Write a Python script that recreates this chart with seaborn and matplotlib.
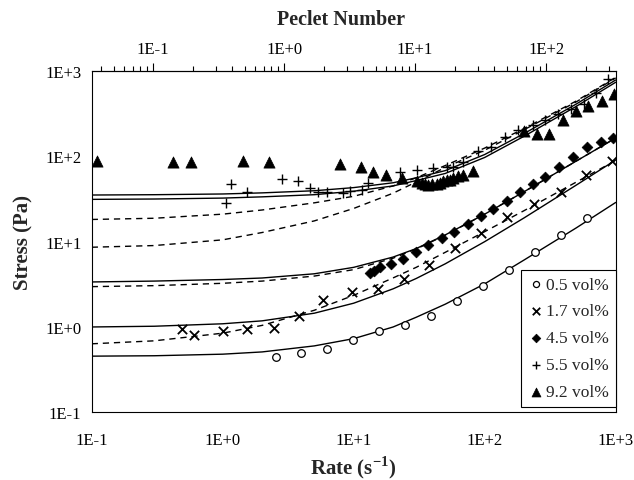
import numpy as np
import matplotlib
matplotlib.use("Agg")
import matplotlib.pyplot as plt
import seaborn as sns
from matplotlib.ticker import FixedLocator, FuncFormatter, NullFormatter, LogLocator

# ---------------- data ----------------
# measured points
rate_05 = [2.54, 3.93, 6.27, 9.8, 15.7, 24.7, 38.7, 61.8, 97.5, 153, 244, 384, 605]
stress_05 = [0.45, 0.49, 0.557, 0.71, 0.90, 1.05, 1.36, 2.02, 3.03, 4.66, 7.48, 12.1, 19.0]

rate_17 = [0.486, 0.607, 1.01, 1.52, 2.47, 3.82, 5.85, 9.7, 15.3, 24, 37.8, 59.3, 93.5,
           149, 237, 379, 594, 933]
stress_17 = [0.955, 0.805, 0.904, 0.946, 0.962, 1.33, 2.08, 2.6, 2.77, 3.62, 5.32, 8.33, 12.7,
             19.5, 27.4, 38.1, 59.7, 87.5]

rate_45 = [13.3, 14.3, 15.9, 19.2, 23.7, 29.8, 37.2, 47, 58.6, 74, 93.5, 116, 147, 185, 234,
           290, 367, 474, 601, 769, 959]
stress_45 = [4.34, 4.54, 4.98, 5.42, 6.25, 7.6, 9.1, 10.9, 13.0, 16.3, 20, 24.4, 29.9, 38.1, 47.7,
             58, 74.6, 98, 127, 149, 164]

rate_55 = [1.06, 1.15, 1.53, 2.83, 3.78, 4.64, 5.3, 6.2, 8.3, 9.3, 11.5, 12.9, 22.5, 30.3, 40.5,
           51.3, 57.5, 68.7, 89.3, 111, 142, 180, 234, 290, 363, 457, 571, 708, 869]
stress_55 = [28.6, 47.8, 38.1, 54.6, 51, 42.6, 38.3, 38.3, 37.4, 39, 40.8, 48.9, 65.6, 68.8, 73,
             75, 74.6, 85.3, 114.5, 128, 170, 203, 233, 268, 313, 363, 409, 545, 813]

rate_92 = [0.11, 0.42, 0.573, 1.42, 2.26, 7.9, 11.3, 14.1, 17.5, 23.2,
           30.3, 33, 35, 37.1, 39.4, 43, 45.6, 48.4, 51.3, 54.3, 57.5, 62.9, 68.7, 80.9,
           200, 249, 311, 394, 496, 618, 781, 975]
stress_92 = [87, 86, 86, 87, 85, 82, 75, 64.9, 59.8, 55.8,
             50.9, 48.7, 47.8, 46.6, 47.3, 47.8, 48.7, 50.9, 52.2, 53.4, 55.8, 58.2, 61, 66.7,
             196, 184, 184, 268, 344, 393, 450, 535]

# model curves
curve_rate = [0.1, 0.3, 1, 2, 5, 10, 20, 30, 50, 100, 200, 500, 1000]
solid_05 = [0.455, 0.46, 0.48, 0.51, 0.60, 0.73, 1.0, 1.3, 1.85, 3.2, 6.1, 14.5, 28.8]
solid_17 = [1.0, 1.02, 1.09, 1.18, 1.45, 1.9, 2.8, 3.7, 5.5, 10, 19, 46, 90.6]
dash_17 = [0.635, 0.688, 0.846, 1.044, 1.569, 2.35, 3.76, 5.0, 7.5, 13.1, 23.1, 49.9, 89.5]
solid_45 = [3.37, 3.45, 3.6, 3.75, 4.2, 5.0, 6.6, 8.3, 12, 21, 38.5, 88, 164]
dash_45 = [2.97, 3.05, 3.25, 3.45, 3.95, 4.7, 6.4, 8.2, 11.9, 21, 38.5, 88, 164]
dash_lo = [8.6, 9.0, 10.5, 12.8, 17.5, 24.5, 37, 50, 74, 118, 205, 435, 830]
dash_hi = [18.2, 18.8, 21, 23.5, 28.5, 34, 45, 56, 78, 125, 212, 445, 843]
solid_hi = [35.2, 35.5, 36.2, 37.3, 39.5, 43, 49, 56, 68, 105, 185, 410, 785]
solid_lo = [31.3, 31.6, 32.4, 33.5, 35.5, 39, 45, 52, 63, 97, 172, 385, 738]

pe_factor = 0.34  # Peclet number per unit rate (top axis)
major_ticks = [0.1, 1, 10, 100, 1000]
top_ticks = [0.1, 1, 10, 100]

# ---------------- style ----------------
sns.set_theme(style="white")
plt.rcParams["font.family"] = ["Liberation Serif", "DejaVu Serif"]
plt.rcParams["mathtext.fontset"] = "custom"
plt.rcParams["mathtext.rm"] = "Liberation Serif"
plt.rcParams["mathtext.bf"] = "Liberation Serif:bold"
plt.rcParams["axes.edgecolor"] = "black"
plt.rcParams["axes.linewidth"] = 0.8

fig = plt.figure(figsize=(6.34, 4.81), dpi=100)
L, R, T, Bm = 91.7, 615.7, 72.0, 413.3
ax = fig.add_axes([L / 634, 1 - Bm / 481, (R - L) / 634, (Bm - T) / 481])
ax.set_xscale("log")
ax.set_yscale("log")
ax.set_xlim(0.1, 1000)
ax.set_ylim(0.1, 1000)

dash = (0, (4.5, 3.5))
line_kw = dict(color="black", lw=1.0, estimator=None, sort=False, legend=False, ax=ax)
for vals, ls in [(solid_05, "-"), (solid_17, "-"), (dash_17, dash), (solid_45, "-"),
                 (dash_45, dash), (dash_lo, dash), (dash_hi, dash), (solid_hi, "-"),
                 (solid_lo, "-")]:
    sns.lineplot(x=curve_rate, y=vals, linestyle=ls, **line_kw)

sns.scatterplot(x=rate_05, y=stress_05, ax=ax, marker="o", s=30, facecolor="white",
                edgecolor="black", linewidth=0.9, label="0.5 vol%", zorder=3)
sns.scatterplot(x=rate_17, y=stress_17, ax=ax, marker="x", s=45, color="black",
                linewidth=1.3, label="1.7 vol%", zorder=3)
sns.scatterplot(x=rate_45, y=stress_45, ax=ax, marker="D", s=30, color="black",
                edgecolor="black", linewidth=0.5, label="4.5 vol%", zorder=3)
sns.scatterplot(x=rate_55, y=stress_55, ax=ax, marker="+", s=55, color="black",
                linewidth=1.0, label="5.5 vol%", zorder=3)
sns.scatterplot(x=rate_92, y=stress_92, ax=ax, marker="^", s=65, color="black",
                edgecolor="black", linewidth=0.5, label="9.2 vol%", zorder=3)

fmt = FuncFormatter(lambda v, p: f"1E{int(round(np.log10(v))):+d}")
for axis in (ax.xaxis, ax.yaxis):
    axis.set_major_locator(FixedLocator(major_ticks))
    axis.set_minor_locator(LogLocator(base=10, subs=np.arange(2, 10)))
    axis.set_major_formatter(fmt)
    axis.set_minor_formatter(NullFormatter())

ax.tick_params(which="both", direction="out", color="black", width=0.8,
               top=False, right=False, labelsize=12, labelcolor="black")
ax.tick_params(which="major", length=6)
ax.tick_params(which="minor", length=3.5)
ax.tick_params(axis="y", pad=1.5)
ax.tick_params(axis="x", pad=8)
for sp in ax.spines.values():
    sp.set_visible(True)
    sp.set_color("black")

ax2 = ax.secondary_xaxis("top", functions=(lambda r: np.asarray(r) * pe_factor,
                                           lambda p: np.asarray(p) / pe_factor))
ax2.xaxis.set_major_locator(FixedLocator(top_ticks))
ax2.xaxis.set_minor_locator(LogLocator(base=10, subs=np.arange(2, 10)))
ax2.xaxis.set_major_formatter(fmt)
ax2.xaxis.set_minor_formatter(NullFormatter())
ax2.tick_params(which="both", direction="out", color="black", width=0.8,
                labelsize=12, labelcolor="black", pad=4)
ax2.tick_params(which="major", length=6)
ax2.tick_params(which="minor", length=3.5)
fig.text(341 / 634, 1 - 20 / 481, "Peclet Number", fontsize=14.5, fontweight="bold",
         ha="center", va="center")

ax.set_xlabel(r"Rate (s$^{\mathbf{-1}}$)", fontsize=15, fontweight="bold", labelpad=4)
ax.set_ylabel("Stress (Pa)", fontsize=15, fontweight="bold", labelpad=8)

leg = ax.legend(loc="lower right", bbox_to_anchor=(1.0, 0.016), frameon=True,
                fancybox=False, edgecolor="black", framealpha=1, borderaxespad=0,
                fontsize=12.5, handletextpad=0.1, labelspacing=0.62, borderpad=0.38,
                handlelength=1.0, markerscale=0.8)
leg.get_frame().set_linewidth(0.8)

fig.savefig("out.png", dpi=100, facecolor="white")
